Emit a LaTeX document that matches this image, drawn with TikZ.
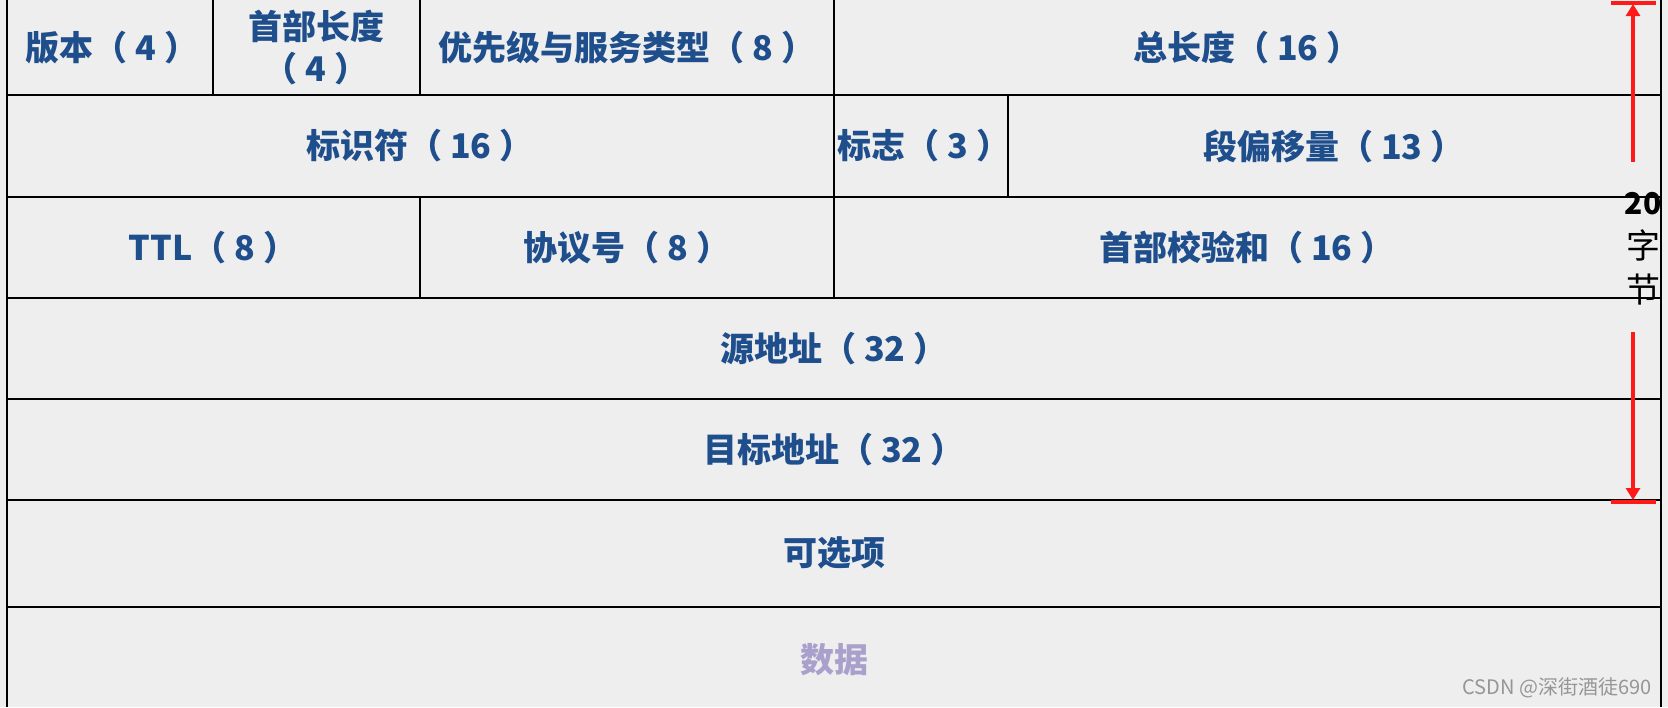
\documentclass[tikz,border=0pt]{standalone}
\usepackage{fontspec}
\usetikzlibrary{arrows.meta}
\newfontfamily\cjk{Noto Sans CJK SC}
\definecolor{fieldblue}{RGB}{31,78,140}
\definecolor{bggray}{RGB}{238,238,238}
\definecolor{datapurple}{RGB}{169,160,204}
\definecolor{arrowred}{RGB}{255,26,26}
\definecolor{markgray}{RGB}{150,150,150}
\begin{document}
\begin{tikzpicture}[x=1pt,y=-1pt,
  field/.style={font=\cjk\bfseries\fontsize{34}{42}\selectfont, text=fieldblue, inner sep=0pt, align=center},
  gridline/.style={line width=2pt, black},
  redarrow/.style={draw=arrowred, line width=4pt, -{Triangle[width=14pt,length=12pt]}},
  redbar/.style={draw=arrowred, line width=4pt},
  sidetext/.style={font=\cjk\fontsize{34}{40}\selectfont, text=black, inner sep=0pt}
]
\fill[bggray] (0,0) rectangle (1668,707);
\useasboundingbox (0,0) rectangle (1668,707);

% field texts
\node[field] (ver)   at (112,47.5) {版本（ 4 ）};
\node[field] (ihl)   at (316,48) {首部长度\\（ 4 ）};
\node[field] (tos)   at (627,47.5) {优先级与服务类型（ 8 ）};
\node[field] (tlen)  at (1247,47.5) {总长度（ 16 ）};
\node[field] (ident) at (420,146) {标识符（ 16 ）};
\node[field] (flags) at (924,146) {标志（ 3 ）};
\node[field] (frag)  at (1334,146) {段偏移量（ 13 ）};
\node[field] (ttl)   at (213,247.5) {TTL（ 8 ）};
\node[field] (proto) at (627,247.5) {协议号（ 8 ）};
\node[field] (csum)  at (1247,247.5) {首部校验和（ 16 ）};
\node[field] (src)   at (834,348.5) {源地址（ 32 ）};
\node[field] (dst)   at (834,449.5) {目标地址（ 32 ）};
\node[field] (opt)   at (834,553) {可选项};
\node[field, text=datapurple] (data) at (834,660) {数据};

% side label
\node[sidetext, font=\cjk\bfseries\fontsize{30}{36}\selectfont] (n20) at (1643,204) {20};
\node[sidetext] (nzi)  at (1643,245) {字};
\node[sidetext] (njie) at (1643,290) {节};

% grid
\foreach \yy in {95,197,298,399,500,606.5}
  \draw[gridline] (7,\yy) -- (1661,\yy);
\draw[gridline] (7,0) -- (7,707);
\draw[gridline] (1661,0) -- (1661,707);
\draw[gridline] (213,0) -- (213,95);
\draw[gridline] (420,0) -- (420,95);
\draw[gridline] (834,0) -- (834,95);
\draw[gridline] (834,95) -- (834,197);
\draw[gridline] (1008,95) -- (1008,197);
\draw[gridline] (420,197) -- (420,298);
\draw[gridline] (834,197) -- (834,298);

% red dimension arrows
\coordinate (upstart) at (1633,162);
\coordinate (uptip) at (1633,4);
\coordinate (downstart) at (1633,332);
\coordinate (downtip) at (1633,500);
\coordinate (topbarL) at (1611,3);
\coordinate (topbarR) at (1656,3);
\coordinate (botbarL) at (1611,502);
\coordinate (botbarR) at (1656,502);
\draw[redarrow] (upstart) -- (uptip);
\draw[redarrow] (downstart) -- (downtip);
\draw[redbar] (topbarL) -- (topbarR);
\draw[redbar] (botbarL) -- (botbarR);

% watermark
\node[font=\cjk\fontsize{20}{24}\selectfont, text=markgray, anchor=base east, inner sep=0pt] (wm) at (1652,694) {CSDN @深街酒徒690};
\end{tikzpicture}
\end{document}
